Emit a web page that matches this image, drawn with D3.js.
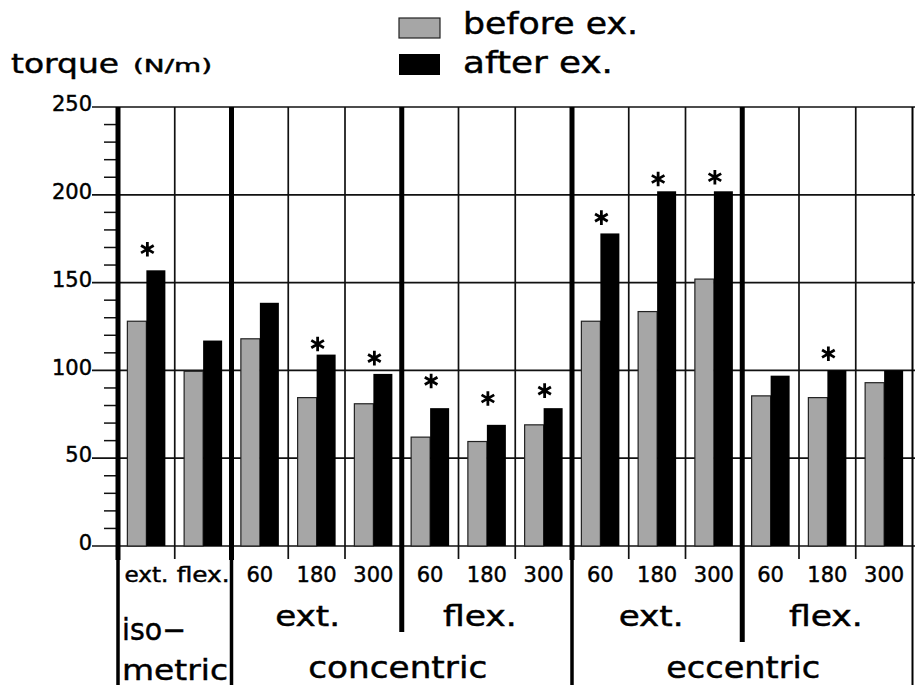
<!DOCTYPE html>
<html>
<head>
<meta charset="utf-8">
<script src="https://cdn.jsdelivr.net/npm/d3@7/dist/d3.min.js"></script>
<style>
  html, body { margin: 0; padding: 0; background: #fff; }
  svg { display: block; font-family: "DejaVu Sans", sans-serif; }
  svg text { stroke: #000; stroke-width: 0.45px; fill: #000; }
</style>
</head>
<body>
<svg id="chart" width="915" height="685"></svg>
<script>
// ---- data ----
const categories = ["iso-ext","iso-flex","con-ext-60","con-ext-180","con-ext-300","con-flex-60","con-flex-180","con-flex-300","ecc-ext-60","ecc-ext-180","ecc-ext-300","ecc-flex-60","ecc-flex-180","ecc-flex-300"];
const tickLabels = ["ext.","flex.","60","180","300","60","180","300","60","180","300","60","180","300"];
const beforeEx = [128, 99.5, 118, 84.5, 81, 62, 59.5, 69, 128, 133.5, 152, 85.5, 84.5, 93];
const afterEx  = [157, 117, 138.5, 109, 98, 78.5, 69, 78.5, 178, 202, 202, 97, 100, 100];
// significance marks (level in N/m where the asterisk sits, null = none)
const starLevel = [169, null, null, 115, 107, 94, 84, 88.5, 187, 209, 210, null, 109.5, null];
const yTicks = [0, 50, 100, 150, 200, 250];
const seriesNames = ["before ex.", "after ex."];
const muscleGroups = [
  {label: "ext.",  from: 2, to: 4},
  {label: "flex.", from: 5, to: 7},
  {label: "ext.",  from: 8, to: 10},
  {label: "flex.", from: 11, to: 13}
];
const modes = [
  {label: "concentric", from: 2, to: 7},
  {label: "eccentric",  from: 8, to: 13}
];

// ---- chart ----
const svg = d3.select("#chart");
const x = d3.scaleBand().domain(categories).range([118, 912.5]).paddingInner(0).paddingOuter(0);
const y = d3.scaleLinear().domain([0, 250]).range([546, 107]);
const bw = x.bandwidth();
const barW = 19;
const colors = {before: "#a6a6a6", after: "#000"};

// horizontal gridlines
svg.append("g").selectAll("line").data(yTicks).join("line")
  .attr("x1", 92).attr("x2", 915)
  .attr("y1", d => y(d)).attr("y2", d => y(d))
  .attr("stroke", "#111").attr("stroke-width", 1.7);

// y axis labels via d3 axis
const yAxis = d3.axisLeft(y).tickValues(yTicks).tickSize(0).tickPadding(0);
const ya = svg.append("g").attr("transform", "translate(92,0)").call(yAxis);
ya.select(".domain").remove();
ya.attr("font-family", null).attr("font-size", null);
ya.selectAll("text")
  .attr("font-family", "DejaVu Sans").style("font-size", "21px")
  .attr("fill", "#000").attr("dy", "0.18em").attr("x", 0);

// minor ticks
const minor = d3.range(10, 250, 10).filter(v => v % 50 !== 0);
svg.append("g").selectAll("line").data(minor).join("line")
  .attr("x1", 104).attr("x2", 118)
  .attr("y1", d => y(d)).attr("y2", d => y(d))
  .attr("stroke", "#111").attr("stroke-width", 1.5);

// vertical lines at band boundaries
const boundaries = d3.range(0, categories.length + 1);
const xb = i => 118 + x.step() * i;
const fullThick = [0, 2, 8];
const midThick = {5: 632, 11: 642};
const vg = svg.append("g");
boundaries.forEach(i => {
  const xx = xb(i);
  if (fullThick.includes(i)) {
    vg.append("line").attr("x1", xx).attr("x2", xx).attr("y1", y(250)).attr("y2", 560)
      .attr("stroke", "#000").attr("stroke-width", 5);
    vg.append("line").attr("x1", xx).attr("x2", xx).attr("y1", 560).attr("y2", 685)
      .attr("stroke", "#000").attr("stroke-width", 3.5);
  } else if (midThick[i] !== undefined) {
    vg.append("line").attr("x1", xx).attr("x2", xx).attr("y1", y(250)).attr("y2", midThick[i])
      .attr("stroke", "#000").attr("stroke-width", 5);
  } else if (i === categories.length) {
    vg.append("line").attr("x1", xx).attr("x2", xx).attr("y1", y(250)).attr("y2", 685)
      .attr("stroke", "#000").attr("stroke-width", 2);
  } else {
    vg.append("line").attr("x1", xx).attr("x2", xx).attr("y1", y(250)).attr("y2", 559)
      .attr("stroke", "#111").attr("stroke-width", 1.7);
  }
});

// bars
const bars = svg.append("g");
bars.selectAll("rect.before").data(categories).join("rect")
  .attr("class", "before")
  .attr("x", d => x(d) + bw / 2 - barW)
  .attr("y", (d, i) => y(beforeEx[i]))
  .attr("width", barW)
  .attr("height", (d, i) => y(0) - y(beforeEx[i]))
  .attr("fill", colors.before).attr("stroke", "#222").attr("stroke-width", 1.2);
bars.selectAll("rect.after").data(categories).join("rect")
  .attr("class", "after")
  .attr("x", d => x(d) + bw / 2)
  .attr("y", (d, i) => y(afterEx[i]))
  .attr("width", barW)
  .attr("height", (d, i) => y(0) - y(afterEx[i]))
  .attr("fill", colors.after);

// asterisks
svg.append("g").selectAll("path")
  .data(categories.map((c, i) => ({c, v: starLevel[i]})).filter(d => d.v !== null))
  .join("path")
  .attr("d", d3.symbol().type(d3.symbolAsterisk).size(150))
  .attr("transform", d => `translate(${x(d.c) + bw / 2 + 1},${y(d.v)})`)
  .attr("fill", "none").attr("stroke", "#000").attr("stroke-width", 2.8);

// category tick labels (row 1)
svg.append("g").selectAll("text").data(categories).join("text")
  .attr("x", d => x(d) + bw / 2)
  .attr("y", 581.5)
  .attr("text-anchor", "middle")
  .attr("font-size", 21)
  .attr("textLength", (d, i) => tickLabels[i] === "ext." ? 44 : (tickLabels[i] === "flex." ? 53 : null))
  .attr("lengthAdjust", "spacingAndGlyphs")
  .text((d, i) => tickLabels[i]);

// muscle group labels (row 2)
const groupShift = [-9, -7, -6, -1.5];
svg.append("g").selectAll("text").data(muscleGroups).join("text")
  .attr("x", (d, i) => (xb(d.from) + xb(d.to + 1)) / 2 + groupShift[i])
  .attr("y", 625.5)
  .attr("text-anchor", "middle")
  .attr("font-size", 29)
  .attr("textLength", d => d.label === "ext." ? 65 : 74)
  .attr("lengthAdjust", "spacingAndGlyphs")
  .text(d => d.label);

// mode labels (row 3)
const modeShift = [-4, 1];
svg.append("g").selectAll("text").data(modes).join("text")
  .attr("x", (d, i) => (xb(d.from) + xb(d.to + 1)) / 2 + modeShift[i])
  .attr("y", 678)
  .attr("text-anchor", "middle")
  .attr("font-size", 30)
  .attr("textLength", d => d.label === "concentric" ? 179 : 154)
  .attr("lengthAdjust", "spacingAndGlyphs")
  .text(d => d.label);

// isometric label
svg.append("text").attr("x", 122).attr("y", 640).attr("font-size", 30)
  .attr("textLength", 64).attr("lengthAdjust", "spacingAndGlyphs").text("iso\u2212");
svg.append("text").attr("x", 122).attr("y", 679.5).attr("font-size", 29)
  .attr("textLength", 106).attr("lengthAdjust", "spacingAndGlyphs").text("metric");

// y title
svg.append("text").attr("x", 11).attr("y", 72.5).attr("font-size", 27)
  .attr("textLength", 108).attr("lengthAdjust", "spacingAndGlyphs").text("torque");
svg.append("text").attr("x", 133).attr("y", 71.5).attr("font-size", 18)
  .attr("textLength", 79).attr("lengthAdjust", "spacingAndGlyphs").text("(N/m)");

// legend
const lg = svg.append("g");
seriesNames.forEach((name, i) => {
  lg.append("rect").attr("x", 399).attr("y", i === 0 ? 18 : 54)
    .attr("width", 41).attr("height", i === 0 ? 20 : 21)
    .attr("fill", i === 0 ? colors.before : colors.after)
    .attr("stroke", i === 0 ? "#222" : "none").attr("stroke-width", 1.2);
  lg.append("text").attr("x", 463).attr("y", i === 0 ? 34 : 73)
    .attr("font-size", 30)
    .attr("textLength", i === 0 ? 175 : 150).attr("lengthAdjust", "spacingAndGlyphs")
    .text(name);
});
</script>
</body>
</html>
